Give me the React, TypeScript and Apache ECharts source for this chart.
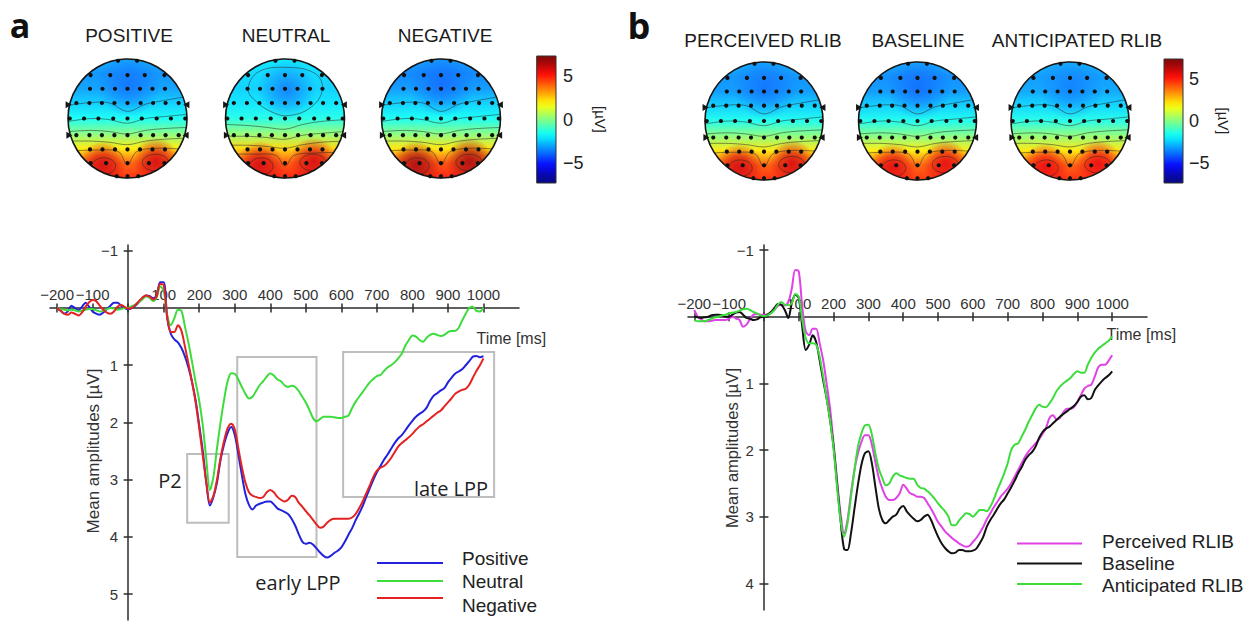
import React, { useEffect, useRef } from "react";
import * as echarts from "echarts";

// ---------- DATA ----------
const TIMES: number[] = Array.from({ length: 121 }, (_, i) => -200 + 10 * i);

// Panel a (µV), every 10 ms from -200 to 1000
const POSITIVE = [
  0.0, 0.05, 0.1, 0.06, -0.04, 0.0, 0.04, -0.02, -0.09, -0.02,
  0.06, 0.1, 0.12, 0.08, 0.02, -0.04, -0.09, -0.09, -0.04, 0.0,
  0.02, 0.0, -0.04, -0.1, -0.17, -0.22, -0.21, -0.17, -0.22, -0.45,
  -0.45, 0.18, 0.45, 0.55, 0.6, 0.7, 0.85, 1.05, 1.3, 1.62,
  2.05, 2.5, 3.05, 3.45, 3.3, 3.05, 2.65, 2.38, 2.18, 2.08,
  2.22, 2.55, 2.92, 3.25, 3.44, 3.52, 3.45, 3.42, 3.4, 3.38,
  3.38, 3.43, 3.5, 3.53, 3.56, 3.6, 3.68, 3.8, 3.95, 4.08,
  4.12, 4.1, 4.13, 4.2, 4.27, 4.33, 4.36, 4.33, 4.28, 4.24,
  4.18, 4.08, 3.96, 3.85, 3.71, 3.59, 3.46, 3.3, 3.15, 3.0,
  2.87, 2.76, 2.65, 2.56, 2.46, 2.36, 2.28, 2.22, 2.14, 2.05,
  1.97, 1.9, 1.85, 1.81, 1.74, 1.62, 1.53, 1.49, 1.44, 1.4,
  1.3, 1.22, 1.15, 1.11, 1.07, 1.0, 0.93, 0.85, 0.84, 0.86,
  0.84,
];
const NEUTRAL = [
  0.0, 0.02, 0.03, 0.04, 0.03, 0.04, 0.06, 0.05, 0.03, 0.02,
  0.02, 0.04, 0.06, 0.05, 0.02, 0.0, 0.01, 0.03, 0.02, 0.0,
  0.0, -0.03, -0.06, -0.1, -0.15, -0.2, -0.18, -0.12, -0.18, -0.38,
  -0.3, 0.12, 0.3, 0.18, 0.03, 0.05, 0.33, 0.62, 0.95, 1.3,
  1.62, 2.05, 2.65, 3.18, 2.95, 2.45, 2.0, 1.6, 1.28, 1.14,
  1.15, 1.25, 1.38, 1.5, 1.58, 1.55, 1.45, 1.35, 1.28, 1.2,
  1.14, 1.18, 1.25, 1.28, 1.35, 1.38, 1.36, 1.38, 1.45, 1.55,
  1.65, 1.78, 1.92, 1.98, 1.94, 1.9, 1.9, 1.9, 1.91, 1.92,
  1.92, 1.9, 1.88, 1.75, 1.64, 1.55, 1.47, 1.38, 1.3, 1.24,
  1.19, 1.17, 1.1, 1.04, 1.0, 0.95, 0.88, 0.8, 0.66, 0.56,
  0.48, 0.5, 0.56, 0.59, 0.52, 0.47, 0.45, 0.47, 0.49, 0.47,
  0.42, 0.4, 0.4, 0.35, 0.22, 0.1, 0.0, -0.02, 0.05, 0.06,
  -0.01,
];
const NEGATIVE = [
  0.0, 0.05, 0.1, 0.12, 0.08, 0.1, 0.13, 0.08, -0.02, -0.1,
  -0.14, -0.12, -0.04, 0.03, 0.08, 0.1, 0.06, -0.02, -0.05, -0.02,
  0.01, 0.0, -0.05, -0.12, -0.18, -0.22, -0.2, -0.15, -0.2, -0.42,
  -0.4, 0.16, 0.42, 0.42, 0.3, 0.4, 0.68, 0.98, 1.3, 1.65,
  2.1, 2.58, 3.05, 3.4, 3.28, 3.0, 2.62, 2.32, 2.1, 2.02,
  2.12, 2.45, 2.78, 3.05, 3.22, 3.28, 3.3, 3.32, 3.3, 3.22,
  3.18, 3.22, 3.3, 3.35, 3.38, 3.35, 3.28, 3.3, 3.4, 3.47,
  3.55, 3.62, 3.7, 3.78, 3.84, 3.82, 3.75, 3.7, 3.68, 3.68,
  3.68, 3.68, 3.68, 3.66, 3.6, 3.5, 3.38, 3.24, 3.1, 2.95,
  2.84, 2.79, 2.76, 2.7, 2.62, 2.52, 2.42, 2.36, 2.31, 2.26,
  2.2, 2.13, 2.07, 2.03, 1.98, 1.93, 1.88, 1.83, 1.79, 1.72,
  1.65, 1.58, 1.5, 1.46, 1.43, 1.41, 1.34, 1.22, 1.1, 1.0,
  0.88,
];

// Panel b (µV)
const PERCEIVED = [
  -0.1, 0.0, 0.04, 0.07, 0.07, 0.06, 0.05, 0.05, 0.05, 0.05,
  0.03, 0.0, 0.03, 0.05, 0.15, 0.12, 0.04, -0.03, -0.04, -0.03,
  -0.03, -0.03, -0.06, -0.1, -0.16, -0.18, -0.17, -0.22, -0.42, -0.7,
  -0.68, -0.15, 0.22, 0.28, 0.18, 0.18, 0.4, 0.65, 1.0, 1.38,
  1.9, 2.45, 2.95, 3.25, 3.05, 2.65, 2.3, 2.05, 1.88, 1.78,
  1.78, 1.92, 2.18, 2.42, 2.58, 2.7, 2.75, 2.75, 2.72, 2.65,
  2.52, 2.58, 2.65, 2.67, 2.7, 2.7, 2.72, 2.8, 2.88, 2.98,
  3.08, 3.15, 3.22, 3.27, 3.32, 3.36, 3.4, 3.43, 3.45, 3.44,
  3.38, 3.32, 3.24, 3.15, 3.04, 2.95, 2.86, 2.78, 2.7, 2.64,
  2.58, 2.5, 2.4, 2.3, 2.2, 2.1, 2.02, 1.96, 1.9, 1.84,
  1.76, 1.67, 1.52, 1.48, 1.54, 1.52, 1.43, 1.38, 1.38, 1.36,
  1.28, 1.18, 1.08, 1.04, 1.02, 0.9, 0.76, 0.72, 0.72, 0.66,
  0.58,
];
const BASELINE = [
  0.0, 0.01, 0.02, 0.01, 0.0, -0.02, -0.03, -0.03, -0.02, 0.0,
  0.0, -0.03, -0.06, -0.07, -0.03, 0.02, 0.03, 0.05, 0.04, 0.01,
  0.0, -0.03, -0.07, -0.13, -0.19, -0.18, -0.1, 0.02, -0.2, -0.33,
  -0.28, 0.15, 0.5, 0.42, 0.28, 0.38, 0.65, 0.95, 1.22, 1.55,
  1.95, 2.5, 3.05, 3.48, 3.5, 3.25, 2.88, 2.52, 2.22, 2.05,
  2.02, 2.2, 2.55, 2.88, 3.05, 3.1, 3.05, 3.0, 2.97, 2.88,
  2.84, 2.92, 2.98, 3.03, 3.07, 3.05, 3.0, 2.97, 3.05, 3.18,
  3.3, 3.4, 3.47, 3.52, 3.55, 3.54, 3.5, 3.5, 3.52, 3.52,
  3.51, 3.48, 3.4, 3.3, 3.15, 3.05, 2.97, 2.88, 2.8, 2.74,
  2.65, 2.56, 2.46, 2.35, 2.26, 2.15, 2.08, 2.03, 1.95, 1.82,
  1.73, 1.68, 1.65, 1.6, 1.55, 1.5, 1.46, 1.42, 1.38, 1.34,
  1.28, 1.2, 1.18, 1.24, 1.22, 1.1, 1.03, 0.97, 0.92, 0.88,
  0.82,
];
const ANTICIPATED = [
  0.05, 0.07, 0.07, 0.07, 0.05, 0.03, 0.01, 0.0, -0.02, -0.03,
  -0.05, -0.06, -0.07, -0.09, -0.11, -0.12, -0.1, -0.07, -0.05, -0.02,
  -0.01, -0.02, -0.05, -0.1, -0.18, -0.22, -0.18, -0.17, -0.2, -0.34,
  -0.3, 0.05, 0.32, 0.4, 0.4, 0.42, 0.6, 0.9, 1.22, 1.55,
  1.98, 2.55, 3.05, 3.3, 3.1, 2.7, 2.3, 1.95, 1.75, 1.63,
  1.62, 1.77, 2.05, 2.28, 2.42, 2.53, 2.5, 2.4, 2.35, 2.38,
  2.4, 2.42, 2.43, 2.43, 2.52, 2.57, 2.58, 2.62, 2.67, 2.73,
  2.8, 2.86, 2.92, 3.0, 3.13, 3.13, 3.06, 3.0, 2.95, 2.96,
  3.0, 2.95, 2.9, 2.9, 2.92, 2.85, 2.74, 2.6, 2.48, 2.35,
  2.2, 2.0, 1.92, 1.9, 1.8, 1.7, 1.58, 1.48, 1.38, 1.32,
  1.35, 1.36, 1.3, 1.22, 1.12, 1.05, 1.0, 0.96, 0.92, 0.86,
  0.82, 0.84, 0.84, 0.72, 0.62, 0.54, 0.48, 0.44, 0.4, 0.36,
  0.3,
];

const NAMES_A = ["Positive", "Neutral", "Negative"];
const NAMES_B = ["Perceived RLIB", "Baseline", "Anticipated RLIB"];

// analysis windows (ms) and amplitude spans (µV) of the grey boxes
const P2_WINDOW = [166, 283];
const P2_RANGE = [2.55, 3.75];
const EARLY_WINDOW = [307, 530];
const EARLY_RANGE = [0.855, 4.35];
const LATE_WINDOW = [605, 1030];
const LATE_RANGE = [0.77, 3.3];

// tick labels
const X_TICKS = [-200, -100, 0, 100, 200, 300, 400, 500, 600, 700, 800, 900, 1000];
const X_LABELS = [-200, -100, 100, 200, 300, 400, 500, 600, 700, 800, 900, 1000];
const Y_TICKS_A = [-1, 0, 1, 2, 3, 4, 5];
const Y_LABELS_A = [-1, 1, 2, 3, 4, 5];
const Y_TICKS_B = [-1, 0, 1, 2, 3, 4];
const Y_LABELS_B = [-1, 1, 2, 3, 4];
const COLORBAR_TICKS = [5, 0, -5];
const COLORBAR_RANGE = [-7.3, 7.3];

// topographic maps: potential (µV) from front (top) to back (bottom)
const TITLES_A = ["POSITIVE", "NEUTRAL", "NEGATIVE"];
const TITLES_B = ["PERCEIVED RLIB", "BASELINE", "ANTICIPATED RLIB"];
const TOPO_POSITIVE = [-2.9, -3.3, -3.1, -2.4, -1.6, 0.0, 2.0, 4.0, 4.8];
const TOPO_NEUTRAL = [-2.1, -2.3, -2.4, -2.1, -1.4, 0.2, 2.3, 4.2, 5.0];
const TOPO_NEGATIVE = [-3.1, -3.5, -3.2, -2.4, -1.6, 0.0, 2.1, 4.3, 5.0];
const TOPO_PERCEIVED = [-2.9, -3.3, -3.2, -2.4, -1.5, 0.1, 2.1, 4.1, 4.8];
const TOPO_BASELINE = [-2.9, -3.4, -3.2, -2.4, -1.5, 0.0, 2.0, 4.0, 4.7];
const TOPO_ANTICIPATED = [-2.8, -3.2, -3.0, -2.3, -1.4, 0.2, 2.1, 4.1, 4.8];
// frontal minimum and posterior maximum (µV)
const TOPO_MIN = [-3.8, -3.6, -3.9, -3.8, -3.9, -3.6];
const TOPO_MAX = [5.8, 5.8, 6.4, 5.8, 5.6, 5.5];

// ---------- LAYOUT / STYLE ----------
const FONT = "'Liberation Sans', Arial, Helvetica, sans-serif";
const FONT2 = "'Open Sans', 'Liberation Sans', Arial, sans-serif";
const AXIS_COLOR = "#2b2b2b";
const COLORS_A = ["#2222dd", "#3ddc3d", "#e42222"];
const COLORS_B = ["#df42e6", "#111111", "#3ddc3d"];

const MONTAGE: [number, number[]][] = [
  [-0.97, [-0.16, 0.16]],
  [-0.73, [-0.62, -0.29, 0, 0.29, 0.62]],
  [-0.5, [-0.63, -0.42, -0.21, 0, 0.21, 0.42, 0.63]],
  [-0.26, [-0.86, -0.64, -0.43, -0.22, 0, 0.22, 0.43, 0.64, 0.86]],
  [0, [-0.97, -0.73, -0.49, -0.24, 0, 0.24, 0.49, 0.73, 0.97]],
  [0.28, [-0.86, -0.64, -0.43, -0.22, 0, 0.22, 0.43, 0.64, 0.86]],
  [0.52, [-0.63, -0.42, -0.21, 0, 0.21, 0.42, 0.63]],
  [0.75, [-0.62, -0.36, 0, 0.36, 0.62]],
  [0.97, [-0.18, 0, 0.18]],
];

const BAND_CONTOURS: number[][][] = [
  [[-1, -0.22], [-0.6, -0.27], [-0.3, -0.26], [0, -0.12], [0.3, -0.24], [0.6, -0.3], [1, -0.37]],
  [[-1, 0.05], [-0.6, 0.0], [-0.3, 0.02], [0, 0.08], [0.3, 0.0], [0.6, -0.03], [1, -0.07]],
  [[-1, 0.22], [-0.6, 0.2], [-0.3, 0.22], [0, 0.26], [0.3, 0.2], [0.6, 0.17], [1, 0.15]],
  [[-1, 0.38], [-0.6, 0.38], [-0.3, 0.4], [0, 0.44], [0.3, 0.38], [0.6, 0.35], [1, 0.33]],
  [[-1, 0.55], [-0.5, 0.53], [-0.15, 0.56], [0, 0.78], [0.15, 0.56], [0.5, 0.5], [1, 0.52]],
];
const NEUTRAL_CONTOURS: number[][][] = [
  [[-1, 0.1], [-0.6, 0.12], [-0.3, 0.15], [0, 0.18], [0.3, 0.1], [0.6, 0.05], [1, 0.02]],
  [[-1, 0.3], [-0.6, 0.3], [-0.3, 0.32], [0, 0.35], [0.3, 0.28], [0.6, 0.25], [1, 0.22]],
  [[-1, 0.45], [-0.6, 0.45], [-0.3, 0.47], [0, 0.5], [0.3, 0.44], [0.6, 0.4], [1, 0.38]],
  [[-1, 0.6], [-0.5, 0.6], [-0.15, 0.62], [0, 0.8], [0.15, 0.62], [0.5, 0.58], [1, 0.57]],
];
const NEUTRAL_LOOP = [[-0.62, -0.5], [-0.45, -0.78], [0, -0.86], [0.5, -0.76], [0.63, -0.5], [0.45, -0.2], [0.08, -0.05], [-0.2, -0.1], [-0.5, -0.3]];

function jet(v: number, alpha = 1, wash = 0.08) {
  const f = Math.min(1, Math.max(0, (v + 7) / 14));
  const c = (x: number) => Math.min(1, Math.max(0, x));
  const r = c(1.5 - Math.abs(4 * f - 3));
  const g = c(1.5 - Math.abs(4 * f - 2));
  const b = c(1.5 - Math.abs(4 * f - 1));
  const w = (x: number) => Math.round((x * (1 - wash) + wash) * 255);
  return `rgba(${w(r)},${w(g)},${w(b)},${alpha})`;
}

function minus(v: number) {
  return v < 0 ? "\u2212" + Math.abs(v) : String(v);
}

function headGroup(cx: number, cy: number, R: number, rows: number[], vmin: number, vmax: number, neutral: boolean) {
  const P = (u: number, v: number) => [cx + u * R, cy + v * R];
  const ch: any[] = [];
  ch.push({
    type: "circle",
    shape: { cx, cy, r: R },
    style: {
      fill: {
        type: "linear", x: 0, y: 0, x2: 0, y2: 1,
        colorStops: rows.map((v, i) => ({ offset: i / (rows.length - 1), color: jet(v) })),
      },
    },
  });
  const bc = neutral ? P(0.03, -0.48) : P(0.02, -0.58);
  ch.push({
    type: "circle",
    shape: { cx: bc[0], cy: bc[1], r: R * (neutral ? 0.5 : 0.55) },
    style: {
      fill: {
        type: "radial", x: 0.5, y: 0.5, r: 0.5,
        colorStops: [
          { offset: 0, color: jet(vmin, 0.95) },
          { offset: 0.5, color: jet(vmin, 0.5) },
          { offset: 1, color: jet(vmin, 0) },
        ],
      },
    },
  });
  [P(-0.42, 0.78), P(0.48, 0.72)].forEach((p) => {
    ch.push({
      type: "circle",
      shape: { cx: p[0], cy: p[1], r: R * 0.4 },
      style: {
        fill: {
          type: "radial", x: 0.5, y: 0.5, r: 0.5,
          colorStops: [
            { offset: 0, color: jet(vmax, 1) },
            { offset: 0.45, color: jet(vmax, 0.7) },
            { offset: 1, color: jet(vmax, 0) },
          ],
        },
      },
    });
  });
  const cs = { stroke: "rgba(35,35,35,0.6)", lineWidth: 0.85, fill: "none" };
  (neutral ? NEUTRAL_CONTOURS : BAND_CONTOURS).forEach((pts) => {
    ch.push({ type: "polyline", shape: { points: pts.map(([u, v]) => P(u, v)), smooth: 0.35 }, style: cs });
  });
  if (neutral) {
    ch.push({ type: "polygon", shape: { points: NEUTRAL_LOOP.map(([u, v]) => P(u, v)), smooth: 0.4 }, style: cs });
  }
  const l1 = P(-0.4, 0.8), l2 = P(0.47, 0.74);
  ch.push({ type: "ellipse", shape: { cx: l1[0], cy: l1[1], rx: R * 0.2, ry: R * 0.14 }, style: cs });
  ch.push({ type: "ellipse", shape: { cx: l2[0], cy: l2[1], rx: R * 0.22, ry: R * 0.14 }, style: cs });
  // white mask outside the scalp
  ch.push({ type: "ring", shape: { cx, cy, r: R + 24, r0: R }, style: { fill: "#ffffff" } });
  ch.push({ type: "circle", shape: { cx, cy, r: R }, style: { fill: "none", stroke: "#151515", lineWidth: 1.6 } });
  [-0.23, 0.28].forEach((v) => {
    const y = cy + v * R;
    const dx = R * Math.sqrt(1 - v * v);
    ch.push({ type: "polygon", shape: { points: [[cx - dx - 4, y - 3.5], [cx - dx - 4, y + 3.5], [cx - dx + 2, y]] }, style: { fill: "#151515" } });
    ch.push({ type: "polygon", shape: { points: [[cx + dx + 4, y - 3.5], [cx + dx + 4, y + 3.5], [cx + dx - 2, y]] }, style: { fill: "#151515" } });
  });
  MONTAGE.forEach(([v, us]) => {
    us.forEach((u) => {
      const p = P(u, v);
      ch.push({ type: "circle", shape: { cx: p[0], cy: p[1], r: 2.1 }, style: { fill: "#111" } });
    });
  });
  return { type: "group", children: ch };
}

function colorbar(x: number, y: number, w: number, h: number, labelX: number, unitX: number) {
  const [lo, hi] = COLORBAR_RANGE;
  const stops: any[] = [];
  for (let i = 0; i <= 20; i++) {
    const v = hi - ((hi - lo) * i) / 20;
    stops.push({ offset: i / 20, color: jet(v, 1, 0.03) });
  }
  const ch: any[] = [
    {
      type: "rect",
      shape: { x, y, width: w, height: h },
      style: { fill: { type: "linear", x: 0, y: 0, x2: 0, y2: 1, colorStops: stops }, stroke: "#333", lineWidth: 1 },
    },
  ];
  COLORBAR_TICKS.forEach((t) => {
    const ty = y + ((hi - t) / (hi - lo)) * h;
    ch.push({
      type: "text", x: labelX, y: ty,
      style: { text: minus(t), fontSize: 18, fontFamily: FONT, fill: "#222", align: "left", verticalAlign: "middle" },
    });
  });
  ch.push({
    type: "text", x: unitX, y: y + h / 2, rotation: -Math.PI / 2,
    style: { text: "[\u00b5V]", fontSize: 15, fontFamily: FONT, fill: "#222", align: "center", verticalAlign: "middle" },
  });
  return { type: "group", children: ch };
}

function legendGroup(names: string[], colors: string[], x1: number, x2: number, lineYs: number[], textX: number, textYs: number[]) {
  const ch: any[] = [];
  names.forEach((n, i) => {
    ch.push({ type: "line", shape: { x1, y1: lineYs[i], x2, y2: lineYs[i] }, style: { stroke: colors[i], lineWidth: 2.2 } });
    ch.push({
      type: "text", x: textX, y: textYs[i],
      style: { text: n, fontSize: 19, fontFamily: FONT, fill: "#222", align: "left", verticalAlign: "middle" },
    });
  });
  return { type: "group", children: ch };
}

function txt(text: string, x: number, y: number, size: number, extra: any = {}) {
  return {
    type: "text", x, y, rotation: extra.rotation || 0,
    style: {
      text, fontSize: size, fontFamily: extra.fontFamily || FONT, fontWeight: extra.fontWeight || "normal",
      fill: extra.fill || "#1a1a1a", align: extra.align || "center", verticalAlign: "middle",
    },
  };
}

// Builds 3 grids per panel: data grid (hidden axes), x-axis strip at y = 0, y-axis strip at x = 0
function panel(
  gi: number, ai: number, left: number, top: number, width: number, height: number,
  xmin: number, xmax: number, ymin: number, ymax: number, yTicks: number[], yLabels: number[],
) {
  const ls = { color: AXIS_COLOR, width: 1.5 };
  const zeroY = top + ((0 - ymin) / (ymax - ymin)) * height;
  const zeroX = left + ((0 - xmin) / (xmax - xmin)) * width;
  const base = { outerBoundsMode: "none", containLabel: false };
  const grids = [
    { left, top, width, height, ...base },
    { left, top: zeroY, width, height: 10, ...base },
    { left: zeroX, top, width: 10, height, ...base },
  ];
  const hidden = { show: false, axisLine: { show: false, onZero: false }, axisTick: { show: false }, axisLabel: { show: false }, splitLine: { show: false } };
  const xa = [
    { type: "value", gridIndex: gi, min: xmin, max: xmax, ...hidden },
    {
      type: "value", gridIndex: gi + 1, min: xmin, max: xmax, position: "top",
      axisLine: { show: true, onZero: false, lineStyle: ls },
      axisTick: { show: true, length: 4.5, inside: false, customValues: X_TICKS, lineStyle: ls },
      axisLabel: { show: true, customValues: X_LABELS, formatter: (v: number) => minus(v), fontSize: 15, color: "#333", margin: 6, fontFamily: FONT },
      splitLine: { show: false },
    },
    {
      type: "value", gridIndex: gi + 1, min: xmin, max: xmax, position: "top",
      axisLine: { show: false, onZero: false },
      axisTick: { show: true, length: 4.5, inside: true, customValues: X_TICKS, lineStyle: ls },
      axisLabel: { show: false },
      splitLine: { show: false },
    },
    { type: "value", gridIndex: gi + 2, min: 0, max: 1, ...hidden },
  ];
  const ya = [
    { type: "value", gridIndex: gi, min: ymin, max: ymax, inverse: true, ...hidden },
    { type: "value", gridIndex: gi + 1, min: 0, max: 1, ...hidden },
    {
      type: "value", gridIndex: gi + 2, min: ymin, max: ymax, inverse: true, position: "left",
      axisLine: { show: true, onZero: false, lineStyle: ls },
      axisTick: { show: true, length: 4.5, inside: false, customValues: yTicks, lineStyle: ls },
      axisLabel: { show: true, customValues: yLabels, formatter: (v: number) => minus(v), fontSize: 15, color: "#333", margin: 10, fontFamily: FONT },
      splitLine: { show: false },
    },
    {
      type: "value", gridIndex: gi + 2, min: ymin, max: ymax, inverse: true, position: "left",
      axisLine: { show: false, onZero: false },
      axisTick: { show: true, length: 4.5, inside: true, customValues: yTicks, lineStyle: ls },
      axisLabel: { show: false },
      splitLine: { show: false },
    },
  ];
  return { grids, xa, ya, dataAxis: ai };
}

function box(win: number[], rng: number[]) {
  return [{ xAxis: win[0], yAxis: rng[0] }, { xAxis: win[1], yAxis: rng[1] }];
}

function buildOption() {
  const A = panel(0, 0, 50, 245, 469, 375, -220, 1100, -1.1, 5.45, Y_TICKS_A, Y_LABELS_A);
  const B = panel(3, 4, 688, 245, 459, 365, -218, 1100, -1.075, 4.4, Y_TICKS_B, Y_LABELS_B);
  const seriesA = [POSITIVE, NEUTRAL, NEGATIVE].map((arr, i) => ({
    type: "line", name: NAMES_A[i], xAxisIndex: A.dataAxis, yAxisIndex: A.dataAxis,
    data: TIMES.map((t, k) => [t, arr[k]]),
    showSymbol: false, symbol: "none", smooth: 0.3, clip: false,
    lineStyle: { color: COLORS_A[i], width: 2 }, itemStyle: { color: COLORS_A[i] },
    z: 3 + i,
    ...(i === 0
      ? {
          markArea: {
            silent: true,
            itemStyle: { color: "rgba(0,0,0,0)", borderColor: "#bdbdbd", borderWidth: 2 },
            label: { show: false },
            data: [box(P2_WINDOW, P2_RANGE), box(EARLY_WINDOW, EARLY_RANGE), box(LATE_WINDOW, LATE_RANGE)],
          },
        }
      : {}),
  }));
  const seriesB = [PERCEIVED, BASELINE, ANTICIPATED].map((arr, i) => ({
    type: "line", name: NAMES_B[i], xAxisIndex: B.dataAxis, yAxisIndex: B.dataAxis,
    data: TIMES.map((t, k) => [t, arr[k]]),
    showSymbol: false, symbol: "none", smooth: 0.3, clip: false,
    lineStyle: { color: COLORS_B[i], width: 2 }, itemStyle: { color: COLORS_B[i] },
    z: 3 + i,
  }));

  const topoA = [TOPO_POSITIVE, TOPO_NEUTRAL, TOPO_NEGATIVE];
  const topoB = [TOPO_PERCEIVED, TOPO_BASELINE, TOPO_ANTICIPATED];
  const headAX = [127.5, 285, 441];
  const headBX = [764, 917.5, 1070];
  const titleAX = [129, 286, 445];
  const titleBX = [763, 918, 1077];

  const graphics: any[] = [];
  topoA.forEach((rows, i) => graphics.push(headGroup(headAX[i], 118.5, 59.5, rows, TOPO_MIN[i], TOPO_MAX[i], i === 1)));
  topoB.forEach((rows, i) => graphics.push(headGroup(headBX[i], 121, 59, rows, TOPO_MIN[3 + i], TOPO_MAX[3 + i], false)));
  TITLES_A.forEach((t, i) => graphics.push(txt(t, titleAX[i], 35, 19)));
  TITLES_B.forEach((t, i) => graphics.push(txt(t, titleBX[i], 40, 19)));
  graphics.push(txt("a", 20, 25, 34, { fontWeight: "bold", fontFamily: FONT2, fill: "#111" }));
  graphics.push(txt("b", 639, 25, 36, { fontWeight: "bold", fontFamily: FONT2, fill: "#111" }));
  graphics.push(colorbar(536.7, 56, 19.3, 127, 563, 600));
  graphics.push(colorbar(1164, 59, 19, 124, 1189, 1223));
  graphics.push(txt("Mean amplitudes [\u00b5V]", 93, 451, 17, { rotation: Math.PI / 2, fill: "#333" }));
  graphics.push(txt("Mean amplitudes [\u00b5V]", 731.5, 448, 16.5, { rotation: Math.PI / 2, fill: "#333" }));
  graphics.push(txt("Time [ms]", 476.5, 338, 16, { align: "left", fill: "#333" }));
  graphics.push(txt("Time [ms]", 1106.5, 334, 16, { align: "left", fill: "#333" }));
  graphics.push(txt("P2", 170, 480, 20, { fontFamily: FONT2, fill: "#222" }));
  graphics.push(txt("early LPP", 298, 582, 20, { fontFamily: FONT2, fill: "#222" }));
  graphics.push(txt("late LPP", 451, 488, 20, { fontFamily: FONT2, fill: "#222" }));
  graphics.push(legendGroup(NAMES_A, COLORS_A, 377, 443, [563, 581, 598], 462, [558, 581.5, 605]));
  graphics.push(legendGroup(NAMES_B, COLORS_B, 1017, 1082, [543.5, 563.5, 584], 1102, [541, 563, 585]));

  return {
    animation: false,
    backgroundColor: "#ffffff",
    grid: [...A.grids, ...B.grids],
    xAxis: [...A.xa, ...B.xa],
    yAxis: [...A.ya, ...B.ya],
    series: [...seriesA, ...seriesB],
    graphic: graphics,
  };
}

export default function App() {
  const ref = useRef<HTMLDivElement>(null);
  useEffect(() => {
    if (!ref.current) return;
    const chart = echarts.init(ref.current, null, { renderer: "svg" });
    chart.setOption(buildOption() as any);
    return () => chart.dispose();
  }, []);
  return (
    <div
      ref={ref}
      style={{ position: "absolute", left: 0, top: 0, width: 1255, height: 622, background: "#fff" }}
    />
  );
}
